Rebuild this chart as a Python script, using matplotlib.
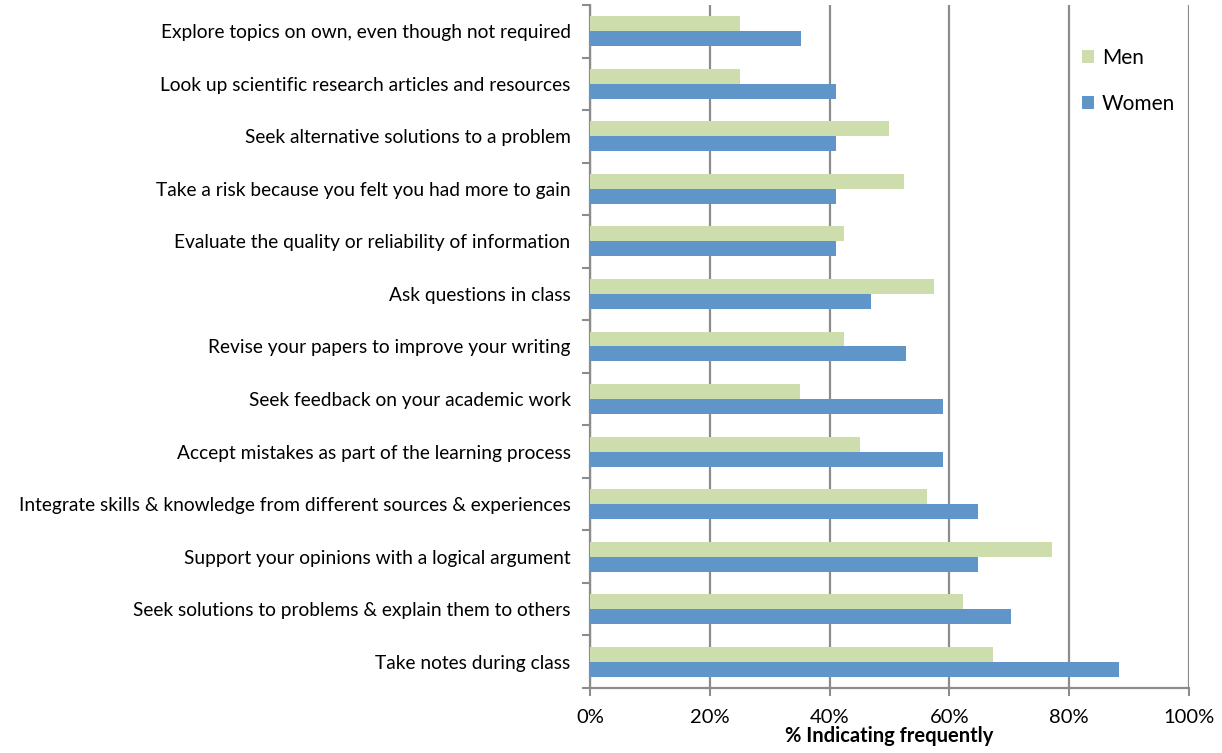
import matplotlib.pyplot as plt
import numpy as np

plt.rcParams['font.family'] = ['Lato', 'DejaVu Sans']

# categories listed top to bottom
categories = [
    'Explore topics on own, even though not required',
    'Look up scientific research articles and resources',
    'Seek alternative solutions to a problem',
    'Take a risk because you felt you had more to gain',
    'Evaluate the quality or reliability of information',
    'Ask questions in class',
    'Revise your papers to improve your writing',
    'Seek feedback on your academic work',
    'Accept mistakes as part of the learning process',
    'Integrate skills & knowledge from different sources & experiences',
    'Support your opinions with a logical argument',
    'Seek solutions to problems & explain them to others',
    'Take notes during class',
]
men = [25.0, 25.0, 50.0, 52.4, 42.4, 57.4, 42.4, 35.1, 45.1, 56.2, 77.1, 62.3, 67.3]
women = [35.3, 41.1, 41.1, 41.1, 41.1, 46.9, 52.8, 58.9, 58.9, 64.7, 64.7, 70.3, 88.3]
xticks = [0, 20, 40, 60, 80, 100]

fig = plt.figure(figsize=(12.22, 7.53), dpi=100)
ax = fig.add_axes([0.4828, 0.0863, 0.4902, 0.9071])

n = len(categories)
y = np.arange(n)[::-1]  # first category at the top
h = 0.285

ax.barh(y + h / 2, men, height=h, color='#CDDDAC', label='Men', zorder=3)
ax.barh(y - h / 2, women, height=h, color='#5F95C8', label='Women', zorder=3)

ax.set_xlim(0, 100)
ax.set_ylim(-0.5, n - 0.5)
ax.set_xticks(xticks)
ax.set_xticklabels([f'{t}%' for t in xticks], fontsize=14.5)
ax.set_yticks(y)
ax.set_yticklabels(categories, fontsize=13.8)
ax.set_yticks(np.arange(n + 1) - 0.5, minor=True)
ax.tick_params(axis='y', which='major', length=0, pad=14)
ax.tick_params(axis='y', which='minor', length=6, width=1.5, color='#8c8c8c')
ax.tick_params(axis='x', length=6, width=1.5, color='#8c8c8c', pad=9)

ax.grid(axis='x', color='#8c8c8c', linewidth=1.6, zorder=0)
for s in ['top', 'right']:
    ax.spines[s].set_visible(False)
for s in ['left', 'bottom']:
    ax.spines[s].set_color('#8c8c8c')
    ax.spines[s].set_linewidth(1.6)

ax.set_xlabel('% Indicating frequently', fontsize=14.5, fontweight='bold', labelpad=0)

ax.legend(loc='upper left', bbox_to_anchor=(0.79, 0.965), frameon=False,
          fontsize=15, handlelength=0.6, handleheight=0.6, labelspacing=1.25,
          handletextpad=0.35)

fig.savefig('out.png', dpi=100)
